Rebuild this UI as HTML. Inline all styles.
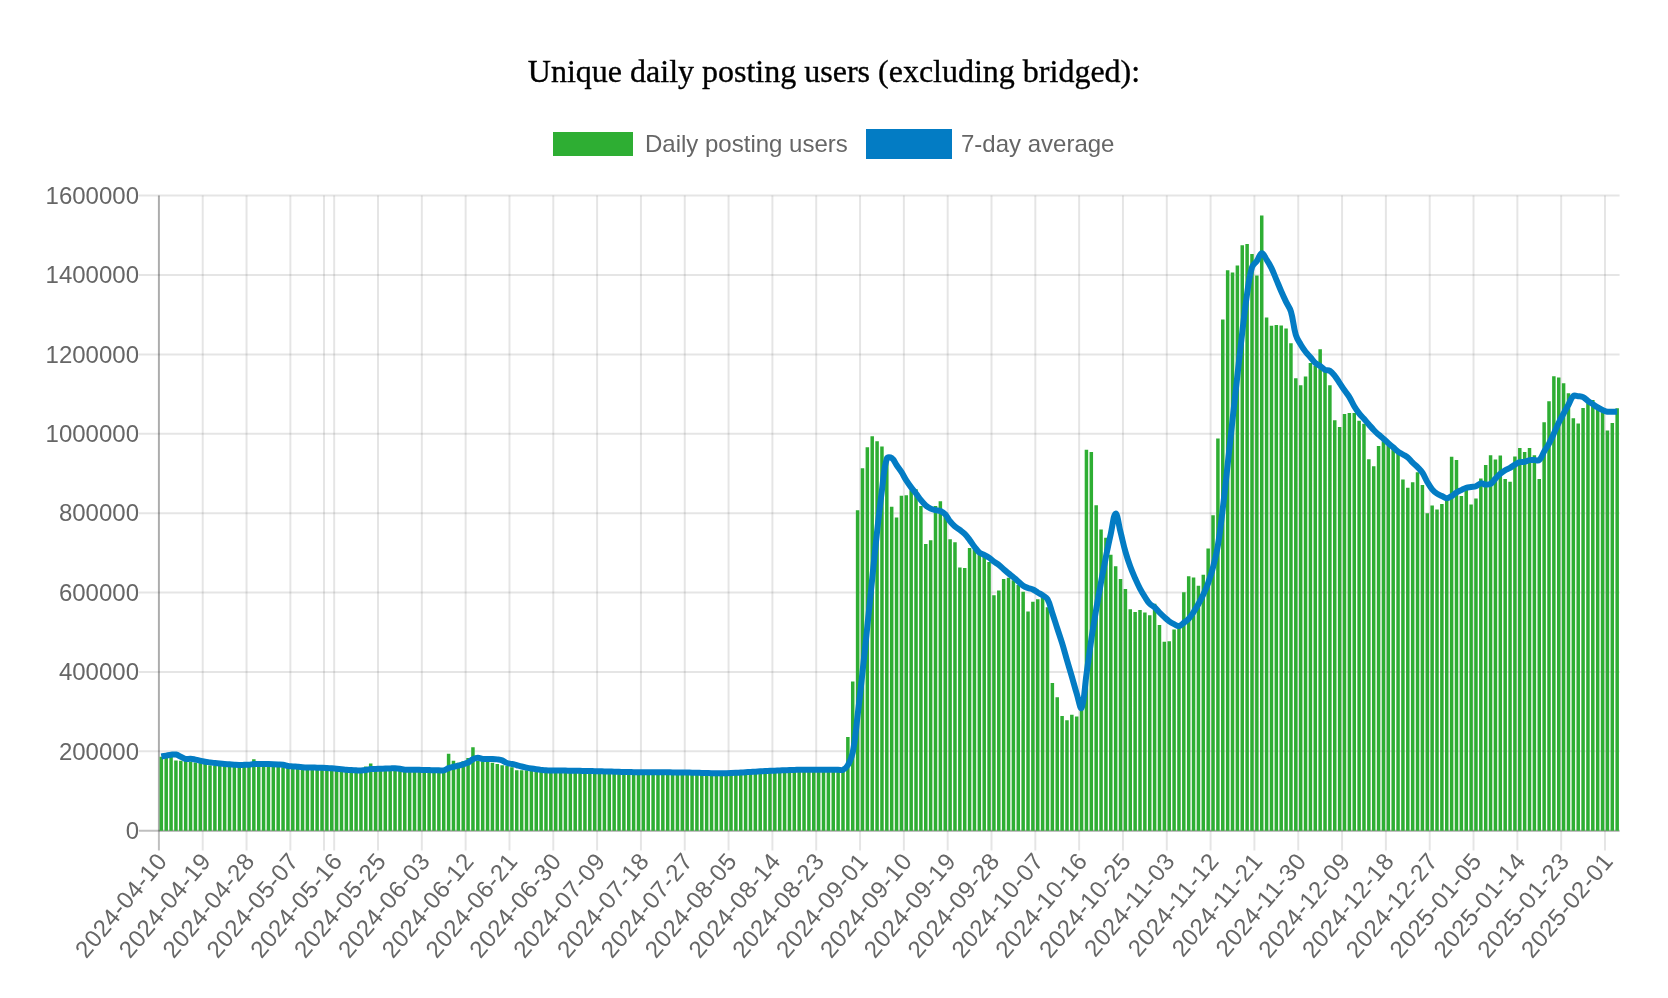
<!DOCTYPE html>
<html><head><meta charset="utf-8"><style>
html,body{margin:0;padding:0;background:#fff;width:1668px;height:998px;overflow:hidden}
svg{position:absolute;left:0;top:0;will-change:transform}
.t{font-family:"Liberation Sans",sans-serif;font-size:24px;fill:#666666}
.xl{letter-spacing:0.5px}
.title{font-family:"Liberation Serif",serif;font-size:32px;fill:#000;stroke:#000;stroke-width:0.35px}
</style></head><body>
<svg width="1668" height="998" viewBox="0 0 1668 998">
<text x="834" y="82" text-anchor="middle" class="title">Unique daily posting users (excluding bridged):</text>
<rect x="553" y="132" width="80" height="24" fill="#2eae33"/>
<text x="645" y="152" class="t">Daily posting users</text>
<rect x="869" y="132" width="80" height="24" fill="#037cc4" stroke="#037cc4" stroke-width="6"/>
<text x="961" y="152" class="t">7-day average</text>
<line x1="139" y1="751.31" x2="1619.60" y2="751.31" stroke="rgba(0,0,0,0.1)" stroke-width="2"/>
<line x1="139" y1="671.93" x2="1619.60" y2="671.93" stroke="rgba(0,0,0,0.1)" stroke-width="2"/>
<line x1="139" y1="592.54" x2="1619.60" y2="592.54" stroke="rgba(0,0,0,0.1)" stroke-width="2"/>
<line x1="139" y1="513.15" x2="1619.60" y2="513.15" stroke="rgba(0,0,0,0.1)" stroke-width="2"/>
<line x1="139" y1="433.76" x2="1619.60" y2="433.76" stroke="rgba(0,0,0,0.1)" stroke-width="2"/>
<line x1="139" y1="354.38" x2="1619.60" y2="354.38" stroke="rgba(0,0,0,0.1)" stroke-width="2"/>
<line x1="139" y1="274.99" x2="1619.60" y2="274.99" stroke="rgba(0,0,0,0.1)" stroke-width="2"/>
<line x1="139" y1="195.60" x2="1619.60" y2="195.60" stroke="rgba(0,0,0,0.1)" stroke-width="2"/>
<line x1="202.72" y1="195.60" x2="202.72" y2="850.6" stroke="rgba(0,0,0,0.1)" stroke-width="2"/>
<line x1="246.54" y1="195.60" x2="246.54" y2="850.6" stroke="rgba(0,0,0,0.1)" stroke-width="2"/>
<line x1="290.36" y1="195.60" x2="290.36" y2="850.6" stroke="rgba(0,0,0,0.1)" stroke-width="2"/>
<line x1="334.18" y1="195.60" x2="334.18" y2="850.6" stroke="rgba(0,0,0,0.1)" stroke-width="2"/>
<line x1="378.00" y1="195.60" x2="378.00" y2="850.6" stroke="rgba(0,0,0,0.1)" stroke-width="2"/>
<line x1="421.83" y1="195.60" x2="421.83" y2="850.6" stroke="rgba(0,0,0,0.1)" stroke-width="2"/>
<line x1="465.65" y1="195.60" x2="465.65" y2="850.6" stroke="rgba(0,0,0,0.1)" stroke-width="2"/>
<line x1="509.47" y1="195.60" x2="509.47" y2="850.6" stroke="rgba(0,0,0,0.1)" stroke-width="2"/>
<line x1="553.29" y1="195.60" x2="553.29" y2="850.6" stroke="rgba(0,0,0,0.1)" stroke-width="2"/>
<line x1="597.11" y1="195.60" x2="597.11" y2="850.6" stroke="rgba(0,0,0,0.1)" stroke-width="2"/>
<line x1="640.93" y1="195.60" x2="640.93" y2="850.6" stroke="rgba(0,0,0,0.1)" stroke-width="2"/>
<line x1="684.75" y1="195.60" x2="684.75" y2="850.6" stroke="rgba(0,0,0,0.1)" stroke-width="2"/>
<line x1="728.57" y1="195.60" x2="728.57" y2="850.6" stroke="rgba(0,0,0,0.1)" stroke-width="2"/>
<line x1="772.39" y1="195.60" x2="772.39" y2="850.6" stroke="rgba(0,0,0,0.1)" stroke-width="2"/>
<line x1="816.21" y1="195.60" x2="816.21" y2="850.6" stroke="rgba(0,0,0,0.1)" stroke-width="2"/>
<line x1="860.04" y1="195.60" x2="860.04" y2="850.6" stroke="rgba(0,0,0,0.1)" stroke-width="2"/>
<line x1="903.86" y1="195.60" x2="903.86" y2="850.6" stroke="rgba(0,0,0,0.1)" stroke-width="2"/>
<line x1="947.68" y1="195.60" x2="947.68" y2="850.6" stroke="rgba(0,0,0,0.1)" stroke-width="2"/>
<line x1="991.50" y1="195.60" x2="991.50" y2="850.6" stroke="rgba(0,0,0,0.1)" stroke-width="2"/>
<line x1="1035.32" y1="195.60" x2="1035.32" y2="850.6" stroke="rgba(0,0,0,0.1)" stroke-width="2"/>
<line x1="1079.14" y1="195.60" x2="1079.14" y2="850.6" stroke="rgba(0,0,0,0.1)" stroke-width="2"/>
<line x1="1122.96" y1="195.60" x2="1122.96" y2="850.6" stroke="rgba(0,0,0,0.1)" stroke-width="2"/>
<line x1="1166.78" y1="195.60" x2="1166.78" y2="850.6" stroke="rgba(0,0,0,0.1)" stroke-width="2"/>
<line x1="1210.60" y1="195.60" x2="1210.60" y2="850.6" stroke="rgba(0,0,0,0.1)" stroke-width="2"/>
<line x1="1254.42" y1="195.60" x2="1254.42" y2="850.6" stroke="rgba(0,0,0,0.1)" stroke-width="2"/>
<line x1="1298.25" y1="195.60" x2="1298.25" y2="850.6" stroke="rgba(0,0,0,0.1)" stroke-width="2"/>
<line x1="1342.07" y1="195.60" x2="1342.07" y2="850.6" stroke="rgba(0,0,0,0.1)" stroke-width="2"/>
<line x1="1385.89" y1="195.60" x2="1385.89" y2="850.6" stroke="rgba(0,0,0,0.1)" stroke-width="2"/>
<line x1="1429.71" y1="195.60" x2="1429.71" y2="850.6" stroke="rgba(0,0,0,0.1)" stroke-width="2"/>
<line x1="1473.53" y1="195.60" x2="1473.53" y2="850.6" stroke="rgba(0,0,0,0.1)" stroke-width="2"/>
<line x1="1517.35" y1="195.60" x2="1517.35" y2="850.6" stroke="rgba(0,0,0,0.1)" stroke-width="2"/>
<line x1="1561.17" y1="195.60" x2="1561.17" y2="850.6" stroke="rgba(0,0,0,0.1)" stroke-width="2"/>
<line x1="1604.99" y1="195.60" x2="1604.99" y2="850.6" stroke="rgba(0,0,0,0.1)" stroke-width="2"/>
<line x1="324.00" y1="195.60" x2="324.00" y2="850.6" stroke="rgba(0,0,0,0.1)" stroke-width="2"/>
<line x1="158.90" y1="195.60" x2="158.90" y2="850.6" stroke="rgba(0,0,0,0.25)" stroke-width="2"/>
<line x1="139" y1="830.70" x2="1619.60" y2="830.70" stroke="rgba(0,0,0,0.25)" stroke-width="2"/>
<line x1="158.90" y1="195.60" x2="158.90" y2="830.70" stroke="rgba(0,0,0,0.1)" stroke-width="2"/>
<line x1="158.90" y1="830.70" x2="1619.60" y2="830.70" stroke="rgba(0,0,0,0.1)" stroke-width="2"/>
<path d="M159.58,756.87h3.5V830.70h-3.5ZM164.45,755.28h3.5V830.70h-3.5ZM169.32,755.68h3.5V830.70h-3.5ZM174.19,760.44h3.5V830.70h-3.5ZM179.06,760.84h3.5V830.70h-3.5ZM183.93,760.84h3.5V830.70h-3.5ZM188.80,761.63h3.5V830.70h-3.5ZM193.67,762.43h3.5V830.70h-3.5ZM198.54,762.43h3.5V830.70h-3.5ZM203.41,763.22h3.5V830.70h-3.5ZM208.27,765.21h3.5V830.70h-3.5ZM213.14,765.60h3.5V830.70h-3.5ZM218.01,764.54h3.5V830.70h-3.5ZM222.88,764.63h3.5V830.70h-3.5ZM227.75,764.72h3.5V830.70h-3.5ZM232.62,764.81h3.5V830.70h-3.5ZM237.49,764.81h3.5V830.70h-3.5ZM242.36,764.81h3.5V830.70h-3.5ZM247.23,764.81h3.5V830.70h-3.5ZM252.10,759.25h3.5V830.70h-3.5ZM256.96,764.81h3.5V830.70h-3.5ZM261.83,764.81h3.5V830.70h-3.5ZM266.70,765.16h3.5V830.70h-3.5ZM271.57,765.85h3.5V830.70h-3.5ZM276.44,766.54h3.5V830.70h-3.5ZM281.31,767.24h3.5V830.70h-3.5ZM286.18,767.59h3.5V830.70h-3.5ZM291.05,767.59h3.5V830.70h-3.5ZM295.92,767.59h3.5V830.70h-3.5ZM300.79,767.59h3.5V830.70h-3.5ZM305.65,767.59h3.5V830.70h-3.5ZM310.52,767.59h3.5V830.70h-3.5ZM315.39,768.12h3.5V830.70h-3.5ZM320.26,768.65h3.5V830.70h-3.5ZM325.13,769.19h3.5V830.70h-3.5ZM330.00,769.72h3.5V830.70h-3.5ZM334.87,770.25h3.5V830.70h-3.5ZM339.74,770.79h3.5V830.70h-3.5ZM344.61,771.09h3.5V830.70h-3.5ZM349.48,770.85h3.5V830.70h-3.5ZM354.34,770.61h3.5V830.70h-3.5ZM359.21,770.38h3.5V830.70h-3.5ZM364.08,766.40h3.5V830.70h-3.5ZM368.95,763.62h3.5V830.70h-3.5ZM373.82,769.67h3.5V830.70h-3.5ZM378.69,769.60h3.5V830.70h-3.5ZM383.56,769.65h3.5V830.70h-3.5ZM388.43,769.70h3.5V830.70h-3.5ZM393.30,769.75h3.5V830.70h-3.5ZM398.17,769.79h3.5V830.70h-3.5ZM403.03,769.84h3.5V830.70h-3.5ZM407.90,769.89h3.5V830.70h-3.5ZM412.77,769.94h3.5V830.70h-3.5ZM417.64,770.12h3.5V830.70h-3.5ZM422.51,770.50h3.5V830.70h-3.5ZM427.38,770.73h3.5V830.70h-3.5ZM432.25,770.64h3.5V830.70h-3.5ZM437.12,770.55h3.5V830.70h-3.5ZM441.99,770.46h3.5V830.70h-3.5ZM446.86,753.69h3.5V830.70h-3.5ZM451.72,760.84h3.5V830.70h-3.5ZM456.59,762.82h3.5V830.70h-3.5ZM461.46,761.24h3.5V830.70h-3.5ZM466.33,758.06h3.5V830.70h-3.5ZM471.20,747.34h3.5V830.70h-3.5ZM476.07,760.84h3.5V830.70h-3.5ZM480.94,761.24h3.5V830.70h-3.5ZM485.81,761.24h3.5V830.70h-3.5ZM490.68,762.82h3.5V830.70h-3.5ZM495.55,764.01h3.5V830.70h-3.5ZM500.41,765.21h3.5V830.70h-3.5ZM505.28,766.00h3.5V830.70h-3.5ZM510.15,767.19h3.5V830.70h-3.5ZM515.02,770.37h3.5V830.70h-3.5ZM519.89,770.17h3.5V830.70h-3.5ZM524.76,770.23h3.5V830.70h-3.5ZM529.63,770.30h3.5V830.70h-3.5ZM534.50,770.37h3.5V830.70h-3.5ZM539.37,770.45h3.5V830.70h-3.5ZM544.24,770.53h3.5V830.70h-3.5ZM549.10,770.62h3.5V830.70h-3.5ZM553.97,770.70h3.5V830.70h-3.5ZM558.84,770.79h3.5V830.70h-3.5ZM563.71,770.87h3.5V830.70h-3.5ZM568.58,770.96h3.5V830.70h-3.5ZM573.45,771.04h3.5V830.70h-3.5ZM578.32,771.13h3.5V830.70h-3.5ZM583.19,771.24h3.5V830.70h-3.5ZM588.06,771.39h3.5V830.70h-3.5ZM592.93,771.53h3.5V830.70h-3.5ZM597.79,771.67h3.5V830.70h-3.5ZM602.66,771.81h3.5V830.70h-3.5ZM607.53,771.95h3.5V830.70h-3.5ZM612.40,772.10h3.5V830.70h-3.5ZM617.27,772.24h3.5V830.70h-3.5ZM622.14,772.35h3.5V830.70h-3.5ZM627.01,772.35h3.5V830.70h-3.5ZM631.88,772.35h3.5V830.70h-3.5ZM636.75,772.35h3.5V830.70h-3.5ZM641.62,772.35h3.5V830.70h-3.5ZM646.48,772.35h3.5V830.70h-3.5ZM651.35,772.35h3.5V830.70h-3.5ZM656.22,772.35h3.5V830.70h-3.5ZM661.09,772.35h3.5V830.70h-3.5ZM665.96,772.41h3.5V830.70h-3.5ZM670.83,772.54h3.5V830.70h-3.5ZM675.70,772.66h3.5V830.70h-3.5ZM680.57,772.79h3.5V830.70h-3.5ZM685.44,772.91h3.5V830.70h-3.5ZM690.31,773.04h3.5V830.70h-3.5ZM695.17,773.16h3.5V830.70h-3.5ZM700.04,773.29h3.5V830.70h-3.5ZM704.91,773.42h3.5V830.70h-3.5ZM709.78,773.54h3.5V830.70h-3.5ZM714.65,773.21h3.5V830.70h-3.5ZM719.52,772.89h3.5V830.70h-3.5ZM724.39,772.56h3.5V830.70h-3.5ZM729.26,772.24h3.5V830.70h-3.5ZM734.13,771.91h3.5V830.70h-3.5ZM739.00,771.58h3.5V830.70h-3.5ZM743.86,771.26h3.5V830.70h-3.5ZM748.73,771.03h3.5V830.70h-3.5ZM753.60,770.83h3.5V830.70h-3.5ZM758.47,770.64h3.5V830.70h-3.5ZM763.34,770.45h3.5V830.70h-3.5ZM768.21,770.26h3.5V830.70h-3.5ZM773.08,770.07h3.5V830.70h-3.5ZM777.95,769.88h3.5V830.70h-3.5ZM782.82,769.69h3.5V830.70h-3.5ZM787.69,769.58h3.5V830.70h-3.5ZM792.55,769.61h3.5V830.70h-3.5ZM797.42,769.64h3.5V830.70h-3.5ZM802.29,769.67h3.5V830.70h-3.5ZM807.16,769.70h3.5V830.70h-3.5ZM812.03,769.73h3.5V830.70h-3.5ZM816.90,769.76h3.5V830.70h-3.5ZM821.77,769.79h3.5V830.70h-3.5ZM826.64,769.82h3.5V830.70h-3.5ZM831.51,769.85h3.5V830.70h-3.5ZM836.38,769.88h3.5V830.70h-3.5ZM841.24,769.91h3.5V830.70h-3.5ZM846.11,737.02h3.5V830.70h-3.5ZM850.98,681.45h3.5V830.70h-3.5ZM855.85,510.37h3.5V830.70h-3.5ZM860.72,468.30h3.5V830.70h-3.5ZM865.59,447.26h3.5V830.70h-3.5ZM870.46,436.14h3.5V830.70h-3.5ZM875.33,441.30h3.5V830.70h-3.5ZM880.20,446.46h3.5V830.70h-3.5ZM885.07,459.96h3.5V830.70h-3.5ZM889.93,506.80h3.5V830.70h-3.5ZM894.80,517.52h3.5V830.70h-3.5ZM899.67,495.68h3.5V830.70h-3.5ZM904.54,495.29h3.5V830.70h-3.5ZM909.41,490.13h3.5V830.70h-3.5ZM914.28,489.33h3.5V830.70h-3.5ZM919.15,506.01h3.5V830.70h-3.5ZM924.02,544.11h3.5V830.70h-3.5ZM928.89,540.14h3.5V830.70h-3.5ZM933.76,506.01h3.5V830.70h-3.5ZM938.62,501.24h3.5V830.70h-3.5ZM943.49,513.15h3.5V830.70h-3.5ZM948.36,539.35h3.5V830.70h-3.5ZM953.23,542.13h3.5V830.70h-3.5ZM958.10,567.53h3.5V830.70h-3.5ZM962.97,567.93h3.5V830.70h-3.5ZM967.84,548.08h3.5V830.70h-3.5ZM972.71,549.27h3.5V830.70h-3.5ZM977.58,552.84h3.5V830.70h-3.5ZM982.45,556.02h3.5V830.70h-3.5ZM987.31,561.97h3.5V830.70h-3.5ZM992.18,595.32h3.5V830.70h-3.5ZM997.05,590.55h3.5V830.70h-3.5ZM1001.92,579.04h3.5V830.70h-3.5ZM1006.79,577.85h3.5V830.70h-3.5ZM1011.66,580.23h3.5V830.70h-3.5ZM1016.53,585.00h3.5V830.70h-3.5ZM1021.40,591.74h3.5V830.70h-3.5ZM1026.27,611.59h3.5V830.70h-3.5ZM1031.14,601.67h3.5V830.70h-3.5ZM1036.00,599.29h3.5V830.70h-3.5ZM1040.87,597.70h3.5V830.70h-3.5ZM1045.74,607.22h3.5V830.70h-3.5ZM1050.61,683.04h3.5V830.70h-3.5ZM1055.48,697.33h3.5V830.70h-3.5ZM1060.35,715.99h3.5V830.70h-3.5ZM1065.22,720.35h3.5V830.70h-3.5ZM1070.09,714.79h3.5V830.70h-3.5ZM1074.96,716.38h3.5V830.70h-3.5ZM1079.83,707.65h3.5V830.70h-3.5ZM1084.69,449.64h3.5V830.70h-3.5ZM1089.56,452.02h3.5V830.70h-3.5ZM1094.43,505.21h3.5V830.70h-3.5ZM1099.30,529.42h3.5V830.70h-3.5ZM1104.17,537.76h3.5V830.70h-3.5ZM1109.04,554.83h3.5V830.70h-3.5ZM1113.91,566.34h3.5V830.70h-3.5ZM1118.78,579.04h3.5V830.70h-3.5ZM1123.65,588.97h3.5V830.70h-3.5ZM1128.52,609.21h3.5V830.70h-3.5ZM1133.38,611.99h3.5V830.70h-3.5ZM1138.25,610.00h3.5V830.70h-3.5ZM1143.12,612.38h3.5V830.70h-3.5ZM1147.99,615.16h3.5V830.70h-3.5ZM1152.86,603.65h3.5V830.70h-3.5ZM1157.73,625.09h3.5V830.70h-3.5ZM1162.60,641.76h3.5V830.70h-3.5ZM1167.47,641.36h3.5V830.70h-3.5ZM1172.34,629.45h3.5V830.70h-3.5ZM1177.21,625.88h3.5V830.70h-3.5ZM1182.07,592.14h3.5V830.70h-3.5ZM1186.94,576.26h3.5V830.70h-3.5ZM1191.81,577.45h3.5V830.70h-3.5ZM1196.68,585.79h3.5V830.70h-3.5ZM1201.55,574.68h3.5V830.70h-3.5ZM1206.42,548.48h3.5V830.70h-3.5ZM1211.29,515.13h3.5V830.70h-3.5ZM1216.16,438.53h3.5V830.70h-3.5ZM1221.03,319.44h3.5V830.70h-3.5ZM1225.90,270.22h3.5V830.70h-3.5ZM1230.76,272.61h3.5V830.70h-3.5ZM1235.63,265.46h3.5V830.70h-3.5ZM1240.50,245.22h3.5V830.70h-3.5ZM1245.37,244.03h3.5V830.70h-3.5ZM1250.24,253.95h3.5V830.70h-3.5ZM1255.11,275.38h3.5V830.70h-3.5ZM1259.98,215.45h3.5V830.70h-3.5ZM1264.85,317.46h3.5V830.70h-3.5ZM1269.72,325.80h3.5V830.70h-3.5ZM1274.59,325.00h3.5V830.70h-3.5ZM1279.45,325.40h3.5V830.70h-3.5ZM1284.32,328.57h3.5V830.70h-3.5ZM1289.19,343.26h3.5V830.70h-3.5ZM1294.06,378.19h3.5V830.70h-3.5ZM1298.93,385.34h3.5V830.70h-3.5ZM1303.80,376.60h3.5V830.70h-3.5ZM1308.67,363.11h3.5V830.70h-3.5ZM1313.54,365.89h3.5V830.70h-3.5ZM1318.41,349.21h3.5V830.70h-3.5ZM1323.28,370.65h3.5V830.70h-3.5ZM1328.14,385.34h3.5V830.70h-3.5ZM1333.01,420.27h3.5V830.70h-3.5ZM1337.88,427.01h3.5V830.70h-3.5ZM1342.75,413.92h3.5V830.70h-3.5ZM1347.62,413.12h3.5V830.70h-3.5ZM1352.49,413.12h3.5V830.70h-3.5ZM1357.36,420.66h3.5V830.70h-3.5ZM1362.23,423.84h3.5V830.70h-3.5ZM1367.10,459.17h3.5V830.70h-3.5ZM1371.97,466.31h3.5V830.70h-3.5ZM1376.83,446.07h3.5V830.70h-3.5ZM1381.70,441.30h3.5V830.70h-3.5ZM1386.57,445.67h3.5V830.70h-3.5ZM1391.44,448.85h3.5V830.70h-3.5ZM1396.31,453.61h3.5V830.70h-3.5ZM1401.18,479.41h3.5V830.70h-3.5ZM1406.05,487.75h3.5V830.70h-3.5ZM1410.92,482.19h3.5V830.70h-3.5ZM1415.79,472.27h3.5V830.70h-3.5ZM1420.66,484.97h3.5V830.70h-3.5ZM1425.52,513.15h3.5V830.70h-3.5ZM1430.39,505.61h3.5V830.70h-3.5ZM1435.26,509.58h3.5V830.70h-3.5ZM1440.13,504.02h3.5V830.70h-3.5ZM1445.00,498.46h3.5V830.70h-3.5ZM1449.87,456.78h3.5V830.70h-3.5ZM1454.74,459.96h3.5V830.70h-3.5ZM1459.61,496.08h3.5V830.70h-3.5ZM1464.48,489.33h3.5V830.70h-3.5ZM1469.35,504.42h3.5V830.70h-3.5ZM1474.21,498.46h3.5V830.70h-3.5ZM1479.08,478.62h3.5V830.70h-3.5ZM1483.95,465.12h3.5V830.70h-3.5ZM1488.82,455.20h3.5V830.70h-3.5ZM1493.69,459.56h3.5V830.70h-3.5ZM1498.56,455.59h3.5V830.70h-3.5ZM1503.43,479.01h3.5V830.70h-3.5ZM1508.30,481.79h3.5V830.70h-3.5ZM1513.17,456.39h3.5V830.70h-3.5ZM1518.04,448.05h3.5V830.70h-3.5ZM1522.90,452.02h3.5V830.70h-3.5ZM1527.77,448.05h3.5V830.70h-3.5ZM1532.64,455.20h3.5V830.70h-3.5ZM1537.51,479.01h3.5V830.70h-3.5ZM1542.38,422.25h3.5V830.70h-3.5ZM1547.25,401.21h3.5V830.70h-3.5ZM1552.12,376.21h3.5V830.70h-3.5ZM1556.99,377.40h3.5V830.70h-3.5ZM1561.86,383.35h3.5V830.70h-3.5ZM1566.73,393.27h3.5V830.70h-3.5ZM1571.59,418.28h3.5V830.70h-3.5ZM1576.46,423.44h3.5V830.70h-3.5ZM1581.33,407.96h3.5V830.70h-3.5ZM1586.20,403.20h3.5V830.70h-3.5ZM1591.07,400.02h3.5V830.70h-3.5ZM1595.94,405.98h3.5V830.70h-3.5ZM1600.81,410.74h3.5V830.70h-3.5ZM1605.68,430.59h3.5V830.70h-3.5ZM1610.55,423.05h3.5V830.70h-3.5ZM1615.42,408.36h3.5V830.70h-3.5Z" fill="#2eae33"/>
<path d="M161.33,756.53C163.28,756.17 164.25,755.97 166.20,755.62C168.15,755.27 169.11,754.99 171.07,754.77C173.01,754.56 174.08,754.17 175.94,754.54C177.98,754.96 178.86,755.87 180.81,756.76C182.76,757.64 183.64,758.54 185.68,758.97C187.54,759.36 188.61,758.67 190.55,758.80C192.51,758.92 193.48,759.23 195.42,759.59C197.37,759.96 198.34,760.19 200.29,760.61C202.24,761.03 203.19,761.34 205.16,761.69C207.09,762.04 208.08,762.10 210.02,762.37C211.97,762.64 212.94,762.81 214.89,763.05C216.84,763.29 217.81,763.39 219.76,763.58C221.71,763.77 222.68,763.86 224.63,764.01C226.58,764.16 227.55,764.20 229.50,764.34C231.45,764.47 232.42,764.56 234.37,764.68C236.32,764.79 237.29,764.87 239.24,764.90C241.19,764.94 242.16,764.88 244.11,764.85C246.06,764.81 247.04,764.91 248.98,764.73C250.94,764.56 251.89,764.12 253.85,763.98C255.78,763.83 256.77,763.99 258.71,764.00C260.66,764.01 261.64,764.00 263.58,764.01C265.53,764.03 266.51,764.02 268.45,764.06C270.40,764.10 271.37,764.13 273.32,764.21C275.27,764.29 276.24,764.34 278.19,764.46C280.14,764.58 281.14,764.50 283.06,764.81C285.03,765.12 285.96,765.68 287.93,766.00C289.85,766.31 290.85,766.24 292.80,766.40C294.75,766.55 295.72,766.64 297.67,766.79C299.61,766.94 300.59,767.02 302.54,767.14C304.48,767.26 305.46,767.31 307.40,767.39C309.35,767.47 310.33,767.48 312.27,767.54C314.22,767.59 315.20,767.61 317.14,767.66C319.09,767.72 320.06,767.74 322.01,767.82C323.96,767.89 324.93,767.94 326.88,768.04C328.83,768.15 329.80,768.21 331.75,768.35C333.70,768.49 334.67,768.56 336.62,768.73C338.57,768.90 339.54,769.00 341.49,769.19C343.44,769.38 344.41,769.51 346.36,769.69C348.30,769.86 349.28,769.94 351.23,770.08C353.17,770.21 354.15,770.27 356.09,770.36C358.04,770.45 359.02,770.59 360.96,770.53C362.92,770.47 363.90,770.33 365.83,770.05C367.79,769.77 368.74,769.33 370.70,769.10C372.63,768.88 373.62,769.02 375.57,768.94C377.52,768.87 378.49,768.81 380.44,768.73C382.39,768.66 383.36,768.62 385.31,768.56C387.26,768.50 388.23,768.47 390.18,768.43C392.12,768.39 393.10,768.26 395.05,768.34C397.00,768.42 397.98,768.55 399.92,768.82C401.87,769.10 402.82,769.53 404.78,769.71C406.72,769.90 407.71,769.73 409.65,769.75C411.60,769.76 412.57,769.77 414.52,769.79C416.47,769.82 417.44,769.83 419.39,769.86C421.34,769.90 422.31,769.92 424.26,769.98C426.21,770.03 427.18,770.06 429.13,770.12C431.08,770.17 432.05,770.19 434.00,770.24C435.95,770.28 436.92,770.30 438.87,770.34C440.82,770.38 441.89,770.85 443.74,770.42C445.78,769.95 446.59,768.85 448.61,768.10C450.49,767.39 451.52,767.26 453.47,766.77C455.41,766.29 456.41,766.16 458.34,765.68C460.30,765.18 461.29,764.94 463.21,764.32C465.19,763.68 466.26,763.48 468.08,762.52C470.15,761.44 470.86,760.22 472.95,759.21C474.75,758.34 475.86,757.89 477.82,757.83C479.75,757.77 480.72,758.68 482.69,758.91C484.61,759.14 485.61,758.96 487.56,758.97C489.51,758.98 490.48,758.89 492.43,758.97C494.38,759.05 495.37,759.08 497.30,759.36C499.26,759.65 500.32,759.69 502.16,760.39C504.22,761.16 504.98,762.30 507.03,763.05C508.87,763.72 509.97,763.52 511.90,763.96C513.87,764.40 514.82,764.75 516.77,765.26C518.72,765.78 519.68,766.07 521.64,766.54C523.58,767.00 524.56,767.20 526.51,767.60C528.45,767.99 529.43,768.17 531.38,768.49C533.32,768.82 534.30,768.96 536.25,769.23C538.19,769.51 539.17,769.64 541.12,769.87C543.06,770.09 544.03,770.24 545.99,770.34C547.93,770.45 548.91,770.36 550.85,770.38C552.80,770.40 553.78,770.43 555.72,770.46C557.67,770.49 558.64,770.50 560.59,770.54C562.54,770.57 563.51,770.59 565.46,770.62C567.41,770.65 568.38,770.67 570.33,770.70C572.28,770.74 573.25,770.75 575.20,770.79C577.15,770.82 578.12,770.84 580.07,770.87C582.02,770.91 582.99,770.92 584.94,770.96C586.89,771.00 587.86,771.02 589.81,771.06C591.75,771.10 592.73,771.12 594.68,771.16C596.62,771.21 597.60,771.23 599.54,771.28C601.49,771.33 602.47,771.35 604.41,771.40C606.36,771.45 607.33,771.48 609.28,771.53C611.23,771.58 612.20,771.61 614.15,771.67C616.10,771.73 617.07,771.76 619.02,771.81C620.97,771.87 621.94,771.90 623.89,771.95C625.84,772.00 626.81,772.02 628.76,772.07C630.71,772.11 631.68,772.13 633.63,772.16C635.58,772.20 636.55,772.21 638.50,772.24C640.44,772.27 641.42,772.28 643.37,772.30C645.31,772.32 646.29,772.32 648.23,772.33C650.18,772.34 651.16,772.35 653.10,772.35C655.05,772.35 656.02,772.35 657.97,772.35C659.92,772.35 660.89,772.35 662.84,772.35C664.79,772.35 665.76,772.35 667.71,772.36C669.66,772.37 670.63,772.37 672.58,772.39C674.53,772.40 675.50,772.41 677.45,772.43C679.40,772.45 680.37,772.46 682.32,772.49C684.27,772.52 685.24,772.54 687.19,772.57C689.13,772.61 690.11,772.63 692.06,772.67C694.00,772.72 694.98,772.74 696.92,772.79C698.87,772.84 699.85,772.86 701.79,772.91C703.74,772.96 704.71,772.99 706.66,773.04C708.61,773.09 709.58,773.13 711.53,773.16C713.48,773.20 714.45,773.21 716.40,773.23C718.35,773.24 719.32,773.24 721.27,773.22C723.22,773.21 724.19,773.19 726.14,773.15C728.09,773.11 729.06,773.09 731.01,773.02C732.96,772.96 733.93,772.92 735.88,772.82C737.82,772.73 738.80,772.68 740.75,772.56C742.69,772.44 743.67,772.36 745.61,772.24C747.56,772.11 748.54,772.04 750.48,771.92C752.43,771.80 753.40,771.74 755.35,771.63C757.30,771.52 758.27,771.46 760.22,771.36C762.17,771.25 763.14,771.20 765.09,771.10C767.04,771.00 768.01,770.96 769.96,770.87C771.91,770.77 772.88,770.73 774.83,770.65C776.78,770.57 777.75,770.53 779.70,770.45C781.65,770.37 782.62,770.33 784.57,770.26C786.51,770.19 787.49,770.15 789.44,770.08C791.38,770.02 792.36,769.99 794.30,769.93C796.25,769.88 797.23,769.86 799.17,769.82C801.12,769.78 802.09,769.76 804.04,769.73C805.99,769.71 806.96,769.70 808.91,769.68C810.86,769.67 811.83,769.66 813.78,769.66C815.73,769.66 816.70,769.66 818.65,769.67C820.60,769.68 821.57,769.69 823.52,769.70C825.47,769.71 826.44,769.72 828.39,769.73C830.34,769.74 831.31,769.75 833.26,769.76C835.20,769.77 836.18,769.78 838.13,769.79C840.07,769.80 841.36,770.60 842.99,769.82C845.26,768.74 846.57,767.45 847.86,765.15C850.46,760.53 851.70,757.81 852.73,752.53C855.59,737.94 855.80,730.31 857.60,715.47C859.69,698.26 860.59,689.63 862.47,672.40C864.48,653.97 865.42,644.75 867.34,626.31C869.32,607.25 870.25,597.71 872.21,578.64C874.14,559.86 875.01,550.46 877.08,531.69C878.91,515.08 879.74,506.75 881.95,490.18C883.64,477.49 883.44,469.70 886.82,458.54C887.33,456.84 890.27,457.08 891.68,458.03C894.16,459.69 894.60,462.26 896.55,465.06C898.49,467.84 899.61,469.13 901.42,471.98C903.51,475.27 904.21,477.14 906.29,480.43C908.11,483.31 909.13,484.68 911.16,487.41C913.03,489.92 914.13,491.05 916.03,493.53C918.02,496.13 918.83,497.58 920.90,500.11C922.72,502.34 923.61,503.55 925.77,505.44C927.51,506.97 928.55,507.66 930.64,508.67C932.45,509.55 933.53,509.67 935.51,510.14C937.43,510.60 938.59,510.24 940.37,511.00C942.49,511.89 943.67,512.60 945.24,514.28C947.56,516.77 947.97,518.73 950.11,521.43C951.87,523.65 952.86,524.73 954.98,526.59C956.75,528.14 957.96,528.52 959.85,529.93C961.86,531.44 962.97,532.12 964.72,533.90C966.87,536.11 967.72,537.45 969.59,539.91C971.62,542.60 972.39,544.12 974.46,546.78C976.29,549.13 977.07,550.58 979.33,552.45C980.96,553.80 982.29,553.81 984.20,554.83C986.18,555.89 987.22,556.38 989.06,557.66C991.12,559.10 991.92,560.14 993.93,561.63C995.81,563.02 996.97,563.42 998.80,564.87C1000.87,566.49 1001.69,567.56 1003.67,569.29C1005.59,570.96 1006.58,571.76 1008.54,573.37C1010.47,574.96 1011.48,575.69 1013.41,577.28C1015.38,578.91 1016.34,579.75 1018.28,581.42C1020.24,583.11 1021.02,584.24 1023.15,585.68C1024.92,586.87 1026.02,587.20 1028.02,588.00C1029.91,588.76 1031.04,588.74 1032.89,589.59C1034.93,590.53 1035.80,591.33 1037.75,592.48C1039.70,593.62 1040.77,594.04 1042.62,595.32C1044.67,596.72 1046.34,597.06 1047.49,599.17C1050.24,604.21 1050.48,607.55 1052.36,613.18C1054.37,619.19 1055.27,622.23 1057.23,628.26C1059.17,634.23 1060.27,637.17 1062.10,643.18C1064.16,649.92 1065.00,653.36 1066.97,660.13C1068.89,666.74 1069.91,670.02 1071.84,676.63C1073.81,683.41 1074.61,686.85 1076.71,693.59C1078.51,699.37 1080.37,710.29 1081.58,707.93C1084.26,702.69 1084.54,687.93 1086.44,674.59C1088.44,660.58 1089.22,653.54 1091.31,639.55C1093.12,627.48 1094.14,621.46 1096.18,609.44C1098.04,598.51 1099.03,593.06 1101.05,582.16C1102.93,572.03 1103.89,566.97 1105.92,556.87C1107.78,547.62 1108.72,542.99 1110.79,533.79C1112.61,525.69 1113.63,513.96 1115.66,513.60C1117.53,513.28 1118.63,524.68 1120.53,532.09C1122.53,539.90 1123.20,543.90 1125.40,551.65C1127.10,557.67 1128.12,560.64 1130.27,566.51C1132.02,571.30 1133.08,573.63 1135.13,578.30C1136.97,582.48 1137.88,584.59 1140.00,588.62C1141.78,592.01 1142.81,593.63 1144.87,596.85C1146.71,599.71 1147.46,601.36 1149.74,603.82C1151.35,605.56 1152.82,605.75 1154.61,607.34C1156.72,609.22 1157.48,610.48 1159.48,612.50C1161.38,614.41 1162.36,615.34 1164.35,617.15C1166.25,618.88 1167.14,619.85 1169.22,621.34C1171.03,622.64 1172.07,623.15 1174.09,624.12C1175.97,625.03 1177.12,626.31 1178.96,626.05C1181.02,625.76 1181.94,624.16 1183.82,622.76C1185.83,621.28 1187.03,620.68 1188.69,618.85C1190.92,616.39 1191.72,614.84 1193.56,612.04C1195.62,608.92 1196.61,607.32 1198.43,604.05C1200.51,600.31 1201.51,598.40 1203.30,594.52C1205.40,589.97 1206.49,587.68 1208.17,582.95C1210.38,576.72 1211.39,573.54 1213.04,567.13C1215.28,558.43 1216.44,554.05 1217.91,545.19C1220.33,530.60 1221.00,523.20 1222.78,508.50C1224.90,490.97 1225.72,482.17 1227.65,464.61C1229.61,446.72 1230.55,437.76 1232.51,419.87C1234.45,402.20 1235.42,393.36 1237.38,375.70C1239.31,358.36 1240.20,349.69 1242.25,332.37C1244.09,316.87 1244.81,309.08 1247.12,293.64C1248.71,283.04 1248.99,277.35 1251.99,267.28C1252.88,264.29 1255.05,263.60 1256.86,260.98C1258.95,257.95 1259.65,253.46 1261.73,253.16C1263.54,252.89 1264.85,256.87 1266.60,259.56C1268.75,262.88 1269.74,264.63 1271.47,268.18C1273.63,272.63 1274.40,275.01 1276.34,279.58C1278.30,284.22 1279.19,286.59 1281.20,291.21C1283.08,295.50 1284.05,297.64 1286.07,301.87C1287.95,305.78 1289.72,307.43 1290.94,311.56C1293.62,320.61 1293.14,325.77 1295.81,334.81C1297.03,338.94 1298.52,340.75 1300.68,344.51C1302.42,347.53 1303.43,349.00 1305.55,351.77C1307.32,354.08 1308.50,355.00 1310.42,357.21C1312.40,359.49 1313.07,361.00 1315.29,362.99C1316.96,364.49 1318.30,364.63 1320.16,365.94C1322.19,367.38 1322.86,368.76 1325.03,369.86C1326.75,370.73 1328.27,369.88 1329.89,370.88C1332.17,372.28 1333.03,373.70 1334.76,375.87C1336.93,378.57 1337.69,380.18 1339.63,383.07C1341.59,385.97 1342.51,387.46 1344.50,390.33C1346.40,393.06 1347.63,394.24 1349.37,397.07C1351.53,400.59 1352.12,402.66 1354.24,406.20C1356.01,409.17 1357.00,410.61 1359.11,413.35C1360.90,415.67 1362.04,416.64 1363.98,418.85C1365.93,421.07 1366.90,422.18 1368.85,424.41C1370.80,426.65 1371.67,427.87 1373.72,430.02C1375.56,431.95 1376.58,432.84 1378.58,434.61C1380.48,436.29 1381.57,436.96 1383.45,438.64C1385.46,440.43 1386.31,441.50 1388.32,443.29C1390.21,444.97 1391.27,445.68 1393.19,447.32C1395.16,448.99 1395.98,450.04 1398.06,451.57C1399.88,452.90 1401.00,453.28 1402.93,454.46C1404.89,455.66 1406.05,456.05 1407.80,457.52C1409.95,459.34 1410.65,460.69 1412.67,462.68C1414.54,464.53 1415.71,465.22 1417.54,467.11C1419.60,469.23 1420.78,470.25 1422.41,472.72C1424.68,476.17 1425.17,478.32 1427.27,481.91C1429.07,484.97 1429.89,486.62 1432.14,489.33C1433.79,491.32 1434.88,492.19 1437.01,493.64C1438.78,494.85 1439.93,495.04 1441.88,495.97C1443.83,496.90 1444.79,498.27 1446.75,498.29C1448.69,498.32 1449.79,497.17 1451.62,496.08C1453.69,494.85 1454.44,493.77 1456.49,492.51C1458.34,491.37 1459.40,491.03 1461.36,490.07C1463.30,489.12 1464.19,488.39 1466.23,487.75C1468.09,487.16 1469.15,487.31 1471.10,487.01C1473.04,486.70 1474.15,486.89 1475.96,486.21C1478.04,485.44 1478.77,483.73 1480.83,483.38C1482.67,483.07 1483.74,484.47 1485.70,484.57C1487.63,484.67 1488.98,484.85 1490.57,483.89C1492.88,482.49 1493.45,480.72 1495.44,478.67C1497.35,476.71 1498.24,475.64 1500.31,473.85C1502.14,472.27 1503.12,471.49 1505.18,470.22C1507.02,469.09 1508.17,468.91 1510.05,467.84C1512.06,466.69 1512.91,465.83 1514.92,464.67C1516.80,463.58 1517.73,462.84 1519.79,462.23C1521.63,461.68 1522.76,462.18 1524.65,461.77C1526.65,461.34 1527.52,460.48 1529.52,460.13C1531.42,459.80 1532.44,460.09 1534.39,460.07C1536.34,460.06 1537.97,461.20 1539.26,460.07C1541.86,457.80 1542.13,454.94 1544.13,451.57C1546.02,448.38 1547.25,446.95 1549.00,443.69C1551.14,439.69 1551.95,437.54 1553.87,433.42C1555.85,429.17 1556.68,426.97 1558.74,422.76C1560.57,419.01 1561.63,417.20 1563.61,413.52C1565.52,409.96 1566.51,408.20 1568.48,404.67C1570.41,401.19 1570.73,398.28 1573.34,396.00C1574.62,394.88 1576.28,395.94 1578.21,396.17C1580.18,396.40 1581.35,396.27 1583.08,397.13C1585.25,398.20 1585.94,399.53 1587.95,400.99C1589.84,402.36 1590.87,402.93 1592.82,404.22C1594.77,405.51 1595.68,406.27 1597.69,407.45C1599.57,408.56 1600.56,409.07 1602.56,409.95C1604.45,410.77 1605.42,411.35 1607.43,411.70C1609.32,412.03 1610.35,411.65 1612.30,411.65C1614.24,411.65 1615.22,411.68 1617.17,411.70" fill="none" stroke="#037cc4" stroke-width="6" stroke-linejoin="round"/>
<text x="139" y="839.00" text-anchor="end" class="t">0</text>
<text x="139" y="759.61" text-anchor="end" class="t">200000</text>
<text x="139" y="680.23" text-anchor="end" class="t">400000</text>
<text x="139" y="600.84" text-anchor="end" class="t">600000</text>
<text x="139" y="521.45" text-anchor="end" class="t">800000</text>
<text x="139" y="442.06" text-anchor="end" class="t">1000000</text>
<text x="139" y="362.68" text-anchor="end" class="t">1200000</text>
<text x="139" y="283.29" text-anchor="end" class="t">1400000</text>
<text x="139" y="203.90" text-anchor="end" class="t">1600000</text>
<text transform="translate(163.50,857.6) rotate(-50)" text-anchor="end" dominant-baseline="middle" class="t xl">2024-04-10</text>
<text transform="translate(207.32,857.6) rotate(-50)" text-anchor="end" dominant-baseline="middle" class="t xl">2024-04-19</text>
<text transform="translate(251.14,857.6) rotate(-50)" text-anchor="end" dominant-baseline="middle" class="t xl">2024-04-28</text>
<text transform="translate(294.96,857.6) rotate(-50)" text-anchor="end" dominant-baseline="middle" class="t xl">2024-05-07</text>
<text transform="translate(338.78,857.6) rotate(-50)" text-anchor="end" dominant-baseline="middle" class="t xl">2024-05-16</text>
<text transform="translate(382.61,857.6) rotate(-50)" text-anchor="end" dominant-baseline="middle" class="t xl">2024-05-25</text>
<text transform="translate(426.43,857.6) rotate(-50)" text-anchor="end" dominant-baseline="middle" class="t xl">2024-06-03</text>
<text transform="translate(470.25,857.6) rotate(-50)" text-anchor="end" dominant-baseline="middle" class="t xl">2024-06-12</text>
<text transform="translate(514.07,857.6) rotate(-50)" text-anchor="end" dominant-baseline="middle" class="t xl">2024-06-21</text>
<text transform="translate(557.89,857.6) rotate(-50)" text-anchor="end" dominant-baseline="middle" class="t xl">2024-06-30</text>
<text transform="translate(601.71,857.6) rotate(-50)" text-anchor="end" dominant-baseline="middle" class="t xl">2024-07-09</text>
<text transform="translate(645.53,857.6) rotate(-50)" text-anchor="end" dominant-baseline="middle" class="t xl">2024-07-18</text>
<text transform="translate(689.35,857.6) rotate(-50)" text-anchor="end" dominant-baseline="middle" class="t xl">2024-07-27</text>
<text transform="translate(733.17,857.6) rotate(-50)" text-anchor="end" dominant-baseline="middle" class="t xl">2024-08-05</text>
<text transform="translate(776.99,857.6) rotate(-50)" text-anchor="end" dominant-baseline="middle" class="t xl">2024-08-14</text>
<text transform="translate(820.81,857.6) rotate(-50)" text-anchor="end" dominant-baseline="middle" class="t xl">2024-08-23</text>
<text transform="translate(864.64,857.6) rotate(-50)" text-anchor="end" dominant-baseline="middle" class="t xl">2024-09-01</text>
<text transform="translate(908.46,857.6) rotate(-50)" text-anchor="end" dominant-baseline="middle" class="t xl">2024-09-10</text>
<text transform="translate(952.28,857.6) rotate(-50)" text-anchor="end" dominant-baseline="middle" class="t xl">2024-09-19</text>
<text transform="translate(996.10,857.6) rotate(-50)" text-anchor="end" dominant-baseline="middle" class="t xl">2024-09-28</text>
<text transform="translate(1039.92,857.6) rotate(-50)" text-anchor="end" dominant-baseline="middle" class="t xl">2024-10-07</text>
<text transform="translate(1083.74,857.6) rotate(-50)" text-anchor="end" dominant-baseline="middle" class="t xl">2024-10-16</text>
<text transform="translate(1127.56,857.6) rotate(-50)" text-anchor="end" dominant-baseline="middle" class="t xl">2024-10-25</text>
<text transform="translate(1171.38,857.6) rotate(-50)" text-anchor="end" dominant-baseline="middle" class="t xl">2024-11-03</text>
<text transform="translate(1215.20,857.6) rotate(-50)" text-anchor="end" dominant-baseline="middle" class="t xl">2024-11-12</text>
<text transform="translate(1259.02,857.6) rotate(-50)" text-anchor="end" dominant-baseline="middle" class="t xl">2024-11-21</text>
<text transform="translate(1302.85,857.6) rotate(-50)" text-anchor="end" dominant-baseline="middle" class="t xl">2024-11-30</text>
<text transform="translate(1346.67,857.6) rotate(-50)" text-anchor="end" dominant-baseline="middle" class="t xl">2024-12-09</text>
<text transform="translate(1390.49,857.6) rotate(-50)" text-anchor="end" dominant-baseline="middle" class="t xl">2024-12-18</text>
<text transform="translate(1434.31,857.6) rotate(-50)" text-anchor="end" dominant-baseline="middle" class="t xl">2024-12-27</text>
<text transform="translate(1478.13,857.6) rotate(-50)" text-anchor="end" dominant-baseline="middle" class="t xl">2025-01-05</text>
<text transform="translate(1521.95,857.6) rotate(-50)" text-anchor="end" dominant-baseline="middle" class="t xl">2025-01-14</text>
<text transform="translate(1565.77,857.6) rotate(-50)" text-anchor="end" dominant-baseline="middle" class="t xl">2025-01-23</text>
<text transform="translate(1609.59,857.6) rotate(-50)" text-anchor="end" dominant-baseline="middle" class="t xl">2025-02-01</text>
</svg>
</body></html>
